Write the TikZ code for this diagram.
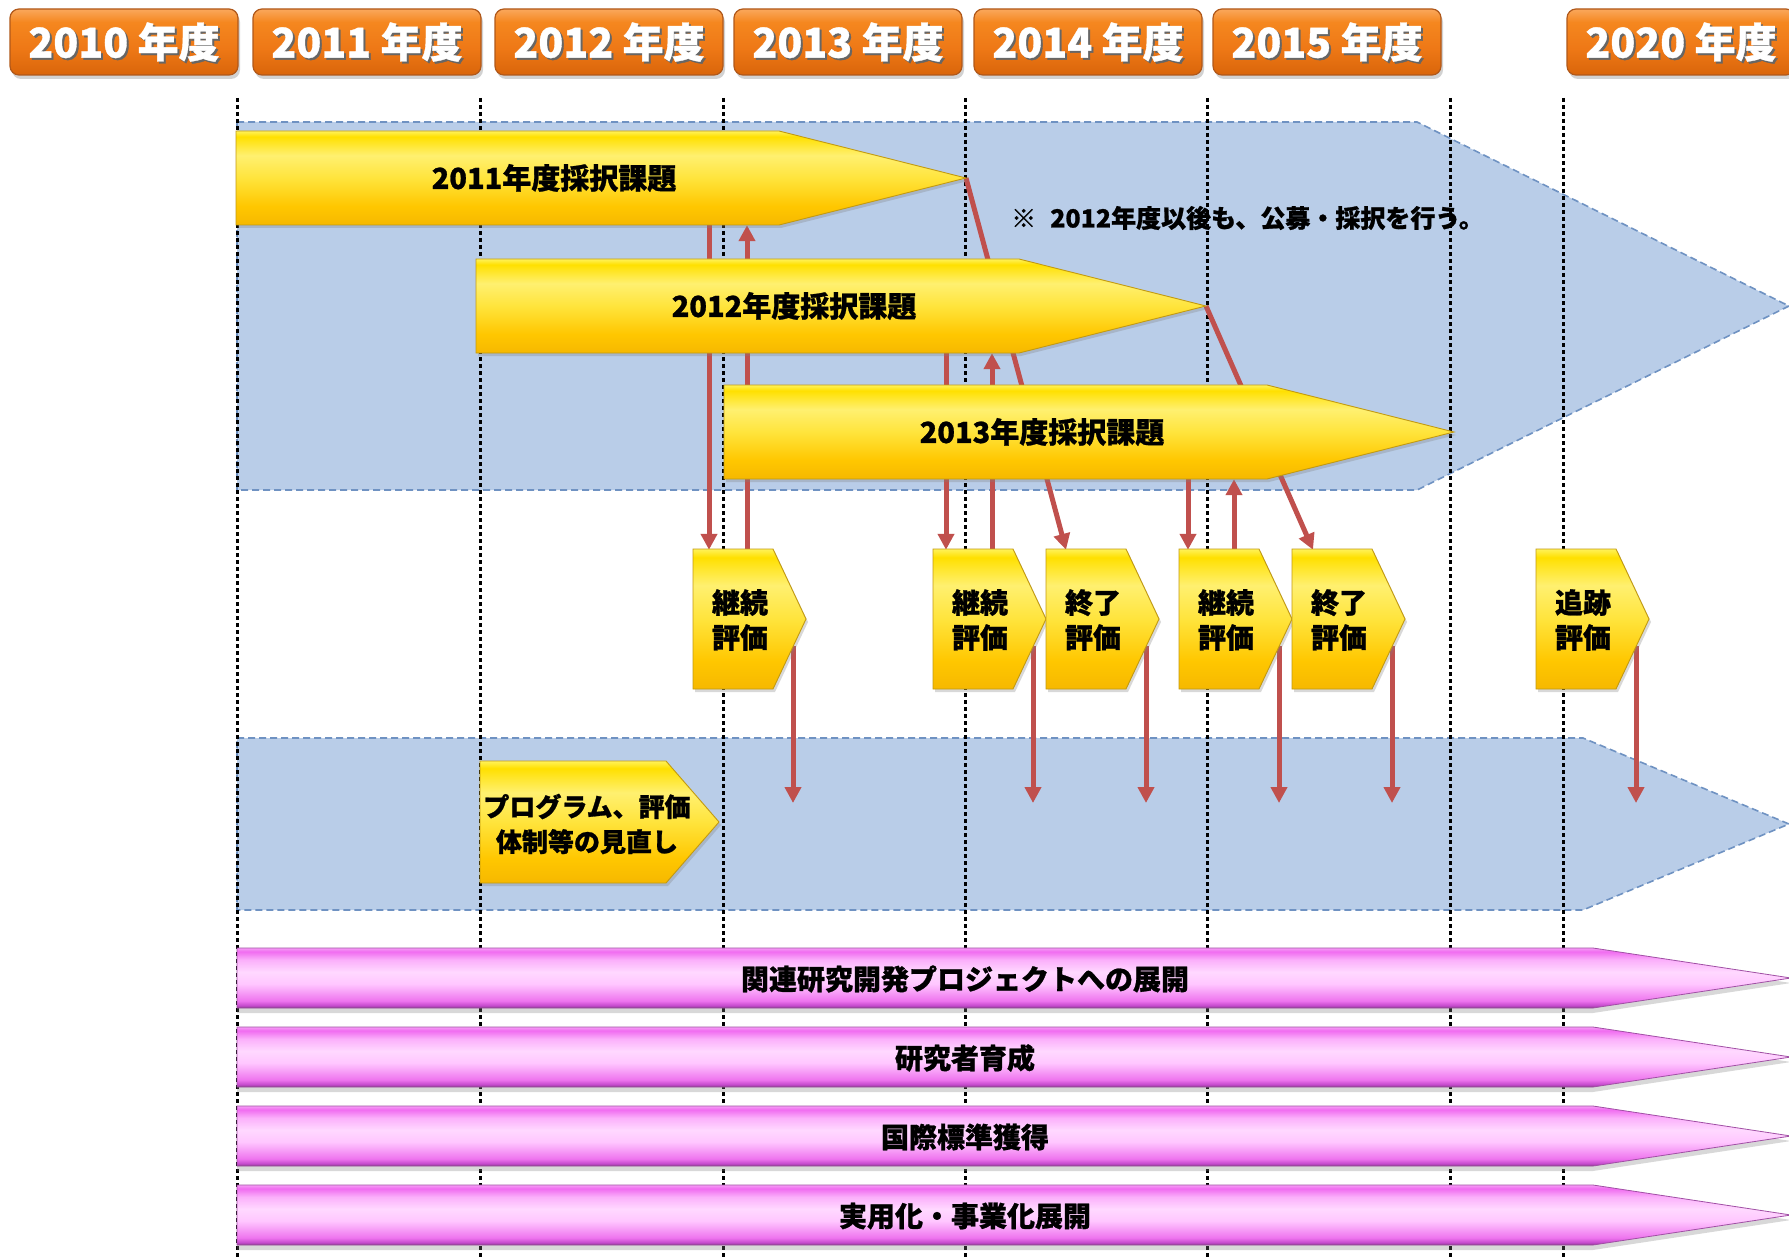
\documentclass[tikz,border=0pt]{standalone}
\usepackage{fontspec}
\newfontfamily\jp{Noto Sans CJK JP}[BoldFeatures={FakeBold=0.9}]
\usetikzlibrary{arrows.meta,calc,shadows}
\pgfdeclarelayer{bg}
\pgfdeclarelayer{mid}
\pgfsetlayers{bg,mid,main}

\definecolor{blueR}{HTML}{B9CDE8}
\definecolor{blueB}{HTML}{6F92C2}
\definecolor{redA}{HTML}{C0504D}
\definecolor{orA}{HTML}{D9650A}
\definecolor{orB}{HTML}{EE7816}
\definecolor{orC}{HTML}{F5871F}
\definecolor{orD}{HTML}{FAA85C}
\definecolor{orE}{HTML}{B0581A}
\definecolor{gA}{HTML}{F6B800}
\definecolor{gB}{HTML}{FFC700}
\definecolor{gC}{HTML}{FFE43C}
\definecolor{gD}{HTML}{FFF070}
\definecolor{gE}{HTML}{FFE000}
\definecolor{gF}{HTML}{FFF25A}
\definecolor{gEdge}{HTML}{C29A12}
\definecolor{pA}{HTML}{7E3A80}
\definecolor{pB}{HTML}{C448CC}
\definecolor{pC}{HTML}{EE74EE}
\definecolor{pD}{HTML}{FFC6FF}
\definecolor{pE}{HTML}{FFD8FF}
\definecolor{pF}{HTML}{FBB0FB}
\definecolor{pG}{HTML}{F06CF0}
\definecolor{pH}{HTML}{F59CF5}
\definecolor{pEdge}{HTML}{A050A4}

\pgfdeclareverticalshading{orsh}{100bp}{color(0bp)=(orA); color(25bp)=(orA); color(45bp)=(orB); color(65bp)=(orC); color(75bp)=(orD); color(100bp)=(orD)}
\pgfdeclareverticalshading{goldsh}{100bp}{color(0bp)=(gA); color(25bp)=(gA); color(35bp)=(gB); color(50bp)=(gC); color(62bp)=(gD); color(72bp)=(gE); color(75bp)=(gF); color(100bp)=(gF)}
\pgfdeclareverticalshading{pinksh}{100bp}{color(0bp)=(pA); color(25bp)=(pA); color(27bp)=(pB); color(31bp)=(pC); color(45bp)=(pD); color(55bp)=(pE); color(65bp)=(pF); color(72bp)=(pG); color(75bp)=(pH); color(100bp)=(pH)}

\newcommand\mkbig[4]{%
  \shade[goldfill] (#2,#3) -- (#2+543,#3) -- (#2+730,#3+47) -- (#2+543,#3+94) -- (#2,#3+94) -- cycle;
  \node[bigtext] (#1) at (#2+318,#3+47) {#4};
  \coordinate (#1tip) at (#2+730,#3+47);
}
\newcommand\mkeval[3]{%
  \shade[goldfill] (#2,549) -- (#2+80,549) -- (#2+113,619) -- (#2+80,689) -- (#2,689) -- cycle;
  \node[evaltext] (#1) at (#2+47,620) {#3};
}
\newcommand\mkpink[3]{%
  \shade[pinkfill] (237,#2) -- (1593,#2) -- (1791,#2+30) -- (1593,#2+60) -- (237,#2+60) -- cycle;
  \node[pinktext] (#1) at (965,#2+31) {#3};
}

\begin{document}
\begin{tikzpicture}[x=1pt,y=-1pt,
  blueregion/.style={fill=blueR, draw=blueB, line width=1.6pt, dash pattern=on 7pt off 4pt},
  yeardots/.style={line width=3pt, dash pattern=on 4pt off 3pt, draw=black},
  goldfill/.style={shading=goldsh, draw=gEdge, line width=0.9pt,
    drop shadow={shadow xshift=2pt, shadow yshift=-3pt, opacity=0.3}},
  pinkfill/.style={shading=pinksh, draw=pEdge, line width=0.8pt,
    drop shadow={shadow xshift=0pt, shadow yshift=-5pt, opacity=0.3}},
  bigtext/.style={font=\jp\bfseries\fontsize{29}{29}\selectfont, text=black, inner sep=0pt, minimum height=94pt},
  evaltext/.style={font=\jp\bfseries\fontsize{28}{35}\selectfont, align=center, inner sep=0pt, minimum height=140pt},
  revtext/.style={font=\jp\bfseries\fontsize{26}{35}\selectfont, align=center, inner sep=0pt},
  pinktext/.style={font=\jp\bfseries\fontsize{28}{28}\selectfont, inner sep=0pt, minimum height=60pt},
  notetext/.style={font=\jp\bfseries\fontsize{25}{25}\selectfont, inner sep=0pt},
  redarr/.style={draw=redA, line width=5pt, -{Triangle[width=16pt,length=16pt]}},
  yearbox/.style={shade, shading=orsh, rounded corners=9pt, minimum width=228pt, minimum height=66pt,
    inner sep=0pt, draw=orE, line width=1.2pt,
    drop shadow={shadow xshift=2pt, shadow yshift=-4pt, opacity=0.35}},
  yeartext/.style={font=\jp\bfseries\fontsize{41}{41}\selectfont, text=white, inner sep=0pt},
  yearshadow/.style={font=\jp\bfseries\fontsize{41}{41}\selectfont, text=black!60, inner sep=0pt}
]
\useasboundingbox (0,0) rectangle (1789,1260);

\begin{pgfonlayer}{bg}
  \fill[white] (0,0) rectangle (1789,1260);
  \path[blueregion] (237,122) -- (1417,122) -- (1789,306) -- (1417,490) -- (237,490) -- cycle;
  \path[blueregion] (237,738) -- (1583,738) -- (1789,824) -- (1583,910) -- (237,910) -- cycle;
  \foreach \x in {237,480,723,965,1207,1450,1563}
    \draw[yeardots] (\x,98) -- (\x,1260);
\end{pgfonlayer}

% year header boxes
\foreach \yr/\cx in {2010/124,2011/367,2012/609,2013/848,2014/1088,2015/1327,2020/1681} {
  \node[yearbox] (y\yr) at (\cx,42) {};
  \node[yearshadow] (ys\yr) at ([shift={(2,2)}]y\yr.center) {\yr\ 年度};
  \node[yeartext] (yt\yr) at (y\yr.center) {\yr\ 年度};
}

% adopted project arrows
\mkbig{a11}{236}{131}{2011年度採択課題}
\mkbig{a12}{476}{259}{2012年度採択課題}
\mkbig{a13}{724}{385}{2013年度採択課題}

\node[notetext, anchor=west] (note) at (1011,218) {※\hspace{14pt}2012年度以後も、公募・採択を行う。};

% evaluation boxes
\mkeval{e1}{693}{継続\\評価}
\mkeval{e2}{933}{継続\\評価}
\mkeval{e3}{1046}{終了\\評価}
\mkeval{e4}{1179}{継続\\評価}
\mkeval{e5}{1292}{終了\\評価}
\mkeval{e6}{1536}{追跡\\評価}

% review box
\shade[goldfill] (480,761) -- (666,761) -- (719,822) -- (666,883) -- (480,883) -- cycle;
\node[revtext] (rev) at (587,824) {プログラム、評価\\体制等の見直し};

% pink arrows
\mkpink{p1}{948}{関連研究開発プロジェクトへの展開}
\mkpink{p2}{1027}{研究者育成}
\mkpink{p3}{1106}{国際標準獲得}
\mkpink{p4}{1185}{実用化・事業化展開}

% connectors
\coordinate (c1) at (709,0);
\coordinate (c2) at (747,0);
\coordinate (c3) at (946,0);
\coordinate (c4) at (992,0);
\coordinate (c5) at (1066,0);
\coordinate (c6) at (1188,0);
\coordinate (c7) at (1234,0);
\coordinate (c8) at (1313,0);
\begin{pgfonlayer}{mid}
  \draw[redarr] (c1 |- a11.south) -- (c1 |- e1.north);
  \draw[redarr] (c2 |- e1.north) -- (c2 |- a11.south);
  \draw[redarr] (c3 |- a12.south) -- (c3 |- e2.north);
  \draw[redarr] (c4 |- e2.north) -- (c4 |- a12.south);
  \draw[redarr] (a11tip) -- (c5 |- e3.north);
  \draw[redarr] (c6 |- a13.south) -- (c6 |- e4.north);
  \draw[redarr] (c7 |- e4.north) -- (c7 |- a13.south);
  \draw[redarr] (a12tip) -- (c8 |- e5.north);
  \foreach \e in {e1,e2,e3,e4,e5,e6} {
    \path ([shift={(53,183)}]\e.center) coordinate (\e f);
    \draw[redarr] ([shift={(53,26)}]\e.center) -- (\e f);
  }
\end{pgfonlayer}
\end{tikzpicture}
\end{document}
